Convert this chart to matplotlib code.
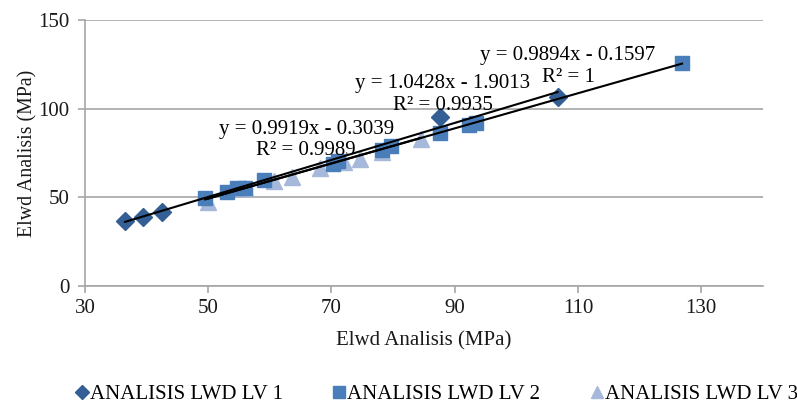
import matplotlib
matplotlib.use("Agg")
import matplotlib.pyplot as plt
import numpy as np
from matplotlib.lines import Line2D

plt.rcParams['font.family'] = ['Liberation Serif', 'DejaVu Serif']

# Data
s1_x = [36.5, 39.5, 42.5, 87.7, 106.7]
s1_y = [36.4, 39.0, 41.8, 95.1, 106.8]
s2_x = [49.5, 53.0, 54.7, 56.0, 59.0, 70.3, 71.1, 78.2, 79.6, 87.7, 92.3, 93.4, 126.9]
s2_y = [49.4, 53.2, 55.1, 55.0, 59.8, 69.0, 70.6, 76.9, 78.8, 86.1, 90.8, 91.9, 125.6]
s3_x = [50.0, 56.0, 60.6, 63.6, 68.2, 72.0, 74.7, 78.2, 84.5]
s3_y = [47.6, 55.0, 59.0, 61.2, 66.4, 70.0, 71.6, 75.7, 83.0]

# trendline coefficients (slope, intercept) as shown
fit1 = (1.0428, -1.9013)
fit2 = (0.9894, -0.1597)
fit3 = (0.9919, -0.3039)

labels = ['ANALISIS LWD LV 1', 'ANALISIS LWD LV 2', 'ANALISIS LWD LV 3']
eq_texts = ['y = 1.0428x - 1.9013\nR² = 0.9935',
            'y = 0.9894x - 0.1597\nR² = 1',
            'y = 0.9919x - 0.3039\nR² = 0.9989']

c1 = '#335F95'
c2 = '#4A7EBB'
c3 = '#A6B9DA'
grid_c = '#A6A6A6'
txt_c = '#1a1a1a'
fs = 15

fig = plt.figure(figsize=(7.97, 4.03), dpi=100)
ax = fig.add_axes([0.1066, 0.2903, 0.957 - 0.1066, 0.9504 - 0.2903])

ax.plot(s3_x, s3_y, linestyle='none', marker='^', markersize=11, color=c3, zorder=3)
ax.plot(s2_x, s2_y, linestyle='none', marker='s', markersize=10, color=c2, zorder=3)
ax.plot(s1_x, s1_y, linestyle='none', marker='D', markersize=9, color=c1, zorder=4)

for xs, (m, b) in [(s1_x, fit1), (s2_x, fit2), (s3_x, fit3)]:
    xx = np.array([min(xs), max(xs)])
    ax.plot(xx, m * xx + b, color='black', lw=1.5, zorder=5)

ax.set_xlim(30, 140)
ax.set_ylim(0, 150)
ax.set_xticks([30, 50, 70, 90, 110, 130])
ax.set_yticks([0, 50, 100, 150])
ax.yaxis.grid(True, color=grid_c, lw=1.2)
ax.set_axisbelow(True)
for sp in ['top', 'right']:
    ax.spines[sp].set_visible(False)
for sp in ['left', 'bottom']:
    ax.spines[sp].set_color(grid_c)
    ax.spines[sp].set_linewidth(1.2)
ax.tick_params(axis='both', colors=grid_c, length=5, width=1.2, labelsize=fs,
               labelcolor=txt_c, direction='out')
ax.tick_params(axis='x', pad=4)
ax.tick_params(axis='y', pad=6)

ax.set_xlabel('Elwd Analisis (MPa)', fontsize=fs, color=txt_c, labelpad=10)
ax.set_ylabel('Elwd Analisis (MPa)', fontsize=14.3, color=txt_c, labelpad=1)

# equation labels (data coords)
ax.text(88.1, 108.0, eq_texts[0], ha='center', va='center', fontsize=fs,
        linespacing=1.15, zorder=6)
ax.text(108.4, 123.8, eq_texts[1], ha='center', va='center', fontsize=fs,
        linespacing=1.15, zorder=6)
ax.text(65.9, 82.3, eq_texts[2], ha='center', va='center', fontsize=fs,
        linespacing=1.15, zorder=6)

handles = [Line2D([], [], linestyle='none', marker='D', markersize=7, color=c1),
           Line2D([], [], linestyle='none', marker='s', markersize=8, color=c2),
           Line2D([], [], linestyle='none', marker='^', markersize=8, color=c3)]
fig.legend(handles, labels, loc='center', bbox_to_anchor=(0.548, 0.022),
           ncol=3, frameon=False, fontsize=fs, handlelength=0.6,
           handletextpad=0.1, columnspacing=2.4)

fig.savefig('out.png', dpi=100)
